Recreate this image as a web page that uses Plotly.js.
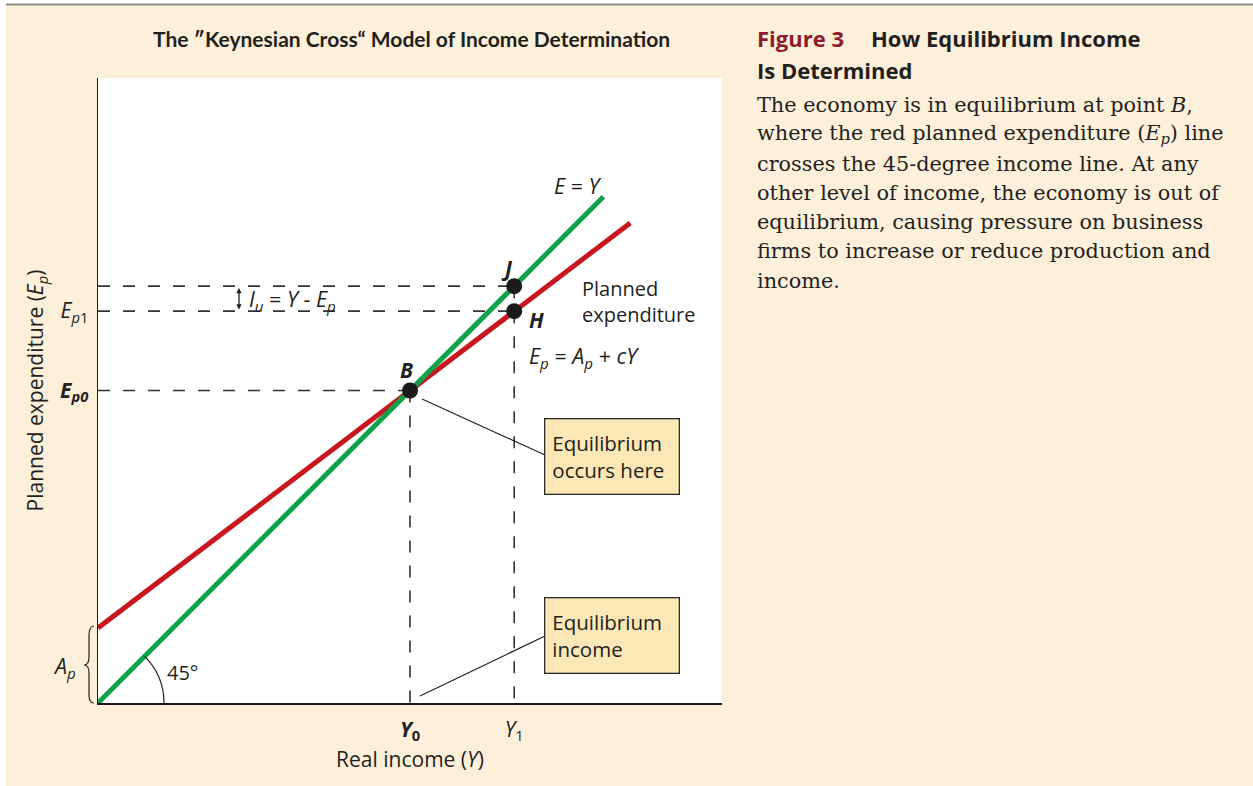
<!DOCTYPE html>
<html>
<head>
<meta charset="utf-8">
<script src="https://cdn.plot.ly/plotly-3.0.1.min.js"></script>
<style>
  html, body { margin: 0; padding: 0; background: #fdf0da; }
  #chart { width: 1253px; height: 786px; }
</style>
</head>
<body>
<div id="chart"></div>
<script>
/* 45-degree income line E = Y */
var incomeX = [0, 81];
var incomeY = [0, 81];

/* planned expenditure Ep = Ap + cY */
var plannedX = [0, 85.3];
var plannedY = [12, 76.8];

/* marked points B, J, H */
var pointName = ['B', 'J', 'H'];
var pointX = [50, 66.7, 66.7];
var pointY = [50, 66.7, 62.7];

/* tick labels */
var xTickVals = [50, 66.7];
var xTickText = ['<b><i>Y</i><sub>0</sub></b>', '<i>Y</i><sub>1</sub>'];
var yTickVals = [50, 62.7];
var yTickText = ['<b><i>E<sub>p0</sub></i></b>', '<i>E</i><sub><i>p</i>1</sub>'];

/* caption text */
var captionLines = [
  'The economy is in equilibrium at point <i>B</i>,',
  'where the red planned expenditure (<i>E<sub>p</sub></i>) line',
  'crosses the 45-degree income line. At any',
  'other level of income, the economy is out of',
  'equilibrium, causing pressure on business',
  'firms to increase or reduce production and',
  'income.'
];

/* pixel -> paper helpers (plot box 98..722 x 78..703) */
var L = 98, R = 722, T = 78, B = 703;
function fx(px) { return (px - L) / (R - L); }
function fy(py) { return (B - py) / (B - T); }
function pt(px, py) { return fx(px) + ',' + fy(py); }

var sans = '"Open Sans", "Noto Sans", sans-serif';
var serif = '"DejaVu Serif", serif';
var ink = '#231f20';

/* dashed guides from the points back to the axes */
var gx = [], gy = [];
for (var i = 0; i < pointX.length; i++) {
  gx.push(0, pointX[i], null);
  gy.push(pointY[i], pointY[i], null);
}
gx.push(pointX[0], pointX[0], null, pointX[1], pointX[1]);
gy.push(pointY[0], 0, null, pointY[1], 0);

var guides = {
  x: gx, y: gy, mode: 'lines', hoverinfo: 'skip',
  line: {color: '#333333', width: 1.6, dash: '12px,13px'}
};
var planned = {
  x: plannedX, y: plannedY, mode: 'lines', hoverinfo: 'skip',
  line: {color: '#c8171f', width: 5}
};
var income = {
  x: incomeX, y: incomeY, mode: 'lines', hoverinfo: 'skip',
  line: {color: '#0ea34a', width: 5}
};
var points = {
  x: pointX, y: pointY, mode: 'markers', hoverinfo: 'skip',
  marker: {color: '#1a1a1a', size: 16}
};

var labelShift = [[-4, 21], [-7, 18], [22, -9]];

var ann = [];
for (var k = 0; k < pointName.length; k++) {
  ann.push({
    x: pointX[k], y: pointY[k], xref: 'x', yref: 'y', showarrow: false,
    xshift: labelShift[k][0], yshift: labelShift[k][1],
    text: '<b><i>' + pointName[k] + '</i></b>',
    font: {family: sans, size: 21, color: ink}
  });
}

function txt(px, py, text, font, xanchor) {
  return {xref: 'paper', yref: 'paper', x: fx(px), y: fy(py), text: text,
    showarrow: false, xanchor: xanchor || 'center', yanchor: 'middle',
    align: 'left', font: font};
}

var lab = {family: sans, size: 20, color: ink};
var math = {family: sans, size: 21.5, color: ink};

ann.push(txt(411, 39, '<b>The ″Keynesian Cross“ Model of Income Determination</b>',
  {family: 'Lato, sans-serif', size: 21, color: ink}));
ann.push(txt(578, 186, '<i>E</i> = <i>Y</i>', math));
ann.push(txt(580, 301, 'Planned<br>expenditure', lab, 'left'));
ann.push(txt(527, 357, '<i>E<sub>p</sub></i> = <i>A<sub>p</sub></i> + <i>cY</i>', math, 'left'));
ann.push(txt(247, 300, '<i>I<sub>u</sub></i> = <i>Y</i> - <i>E<sub>p</sub></i>', math, 'left'));
ann.push(txt(182, 672, '45°', lab));
ann.push(txt(64, 667, '<i>A<sub>p</sub></i>', math));

/* double arrow for Iu */
ann.push({xref: 'paper', yref: 'paper', x: fx(239), y: fy(288), ax: 0, ay: 23,
  text: '', showarrow: true, arrowside: 'end+start', arrowhead: 2,
  arrowsize: 0.8, arrowwidth: 1.3, arrowcolor: ink, standoff: 0, startstandoff: 0});

/* callout boxes */
function box(cx, cy, text) {
  return {xref: 'paper', yref: 'paper', x: fx(cx), y: fy(cy), text: text,
    showarrow: false, align: 'left', xanchor: 'center', yanchor: 'middle',
    width: 119, height: 60, borderpad: 7, bgcolor: '#fce8b6',
    bordercolor: '#2a2a2a', borderwidth: 1.3,
    font: {family: sans, size: 20.5, color: ink}};
}
ann.push(box(612, 456, 'Equilibrium<br>occurs here'));
ann.push(box(612, 635, 'Equilibrium<br>income'));

/* caption on the right */
var head = {family: '"Open Sans", sans-serif', size: 22, color: ink};
ann.push(txt(755, 38, '<b>Figure 3</b>',
  {family: '"Open Sans", sans-serif', size: 22, color: '#8e1b2c'}, 'left'));
ann.push(txt(869, 38, '<b>How Equilibrium Income</b>', head, 'left'));
ann.push(txt(755, 70, '<b>Is Determined</b>', head, 'left'));
for (var j = 0; j < captionLines.length; j++) {
  ann.push(txt(755, 105 + j * 29.3, captionLines[j],
    {family: serif, size: 20.8, color: ink}, 'left'));
}

var shapes = [
  {type: 'rect', xref: 'paper', yref: 'paper', x0: fx(0), x1: fx(1253), y0: fy(0), y1: fy(4),
    fillcolor: '#ffffff', line: {width: 0}},
  {type: 'rect', xref: 'paper', yref: 'paper', x0: fx(0), x1: fx(6), y0: fy(0), y1: fy(786),
    fillcolor: '#ffffff', line: {width: 0}},
  {type: 'line', xref: 'paper', yref: 'paper', x0: fx(6), x1: fx(1253), y0: fy(4.5), y1: fy(4.5),
    line: {color: '#8c8c8c', width: 2}},
  /* 45 degree arc */
  {type: 'path', xref: 'paper', yref: 'paper',
    path: 'M' + pt(164, 703) + ' C' + pt(164, 685.5) + ' ' + pt(157, 668.7) + ' ' + pt(144.7, 656.3),
    line: {color: ink, width: 1.2}},
  /* brace for Ap */
  {type: 'path', xref: 'paper', yref: 'paper',
    path: 'M' + pt(94, 626) + ' C' + pt(90, 626) + ' ' + pt(89, 630) + ' ' + pt(89, 636) +
      ' L' + pt(89, 657) + ' C' + pt(89, 663) + ' ' + pt(87, 665) + ' ' + pt(84, 665) +
      ' C' + pt(87, 665) + ' ' + pt(89, 667) + ' ' + pt(89, 673) +
      ' L' + pt(89, 695) + ' C' + pt(89, 700) + ' ' + pt(90, 703) + ' ' + pt(94, 703),
    line: {color: ink, width: 1.2}},
  /* leader lines */
  {type: 'line', xref: 'paper', yref: 'paper', x0: fx(422), y0: fy(399), x1: fx(545), y1: fy(455),
    line: {color: ink, width: 1.2}},
  {type: 'line', xref: 'paper', yref: 'paper', x0: fx(420), y0: fy(696), x1: fx(545), y1: fy(636),
    line: {color: ink, width: 1.2}}
];

var layout = {
  width: 1253, height: 786,
  margin: {l: L, r: 1253 - R, t: T, b: 786 - B},
  paper_bgcolor: '#fdf0da',
  plot_bgcolor: '#ffffff',
  showlegend: false,
  xaxis: {
    range: [0, 100], showgrid: false, zeroline: false,
    showline: true, linecolor: '#1a1a1a', linewidth: 1.5,
    tickvals: xTickVals, ticktext: xTickText, ticks: '', ticklabelstandoff: 7,
    tickfont: {family: sans, size: 21, color: ink},
    title: {text: 'Real income (<i>Y</i>)', font: {family: sans, size: 21, color: ink}, standoff: 4},
    fixedrange: true
  },
  yaxis: {
    range: [0, 100], showgrid: false, zeroline: false,
    showline: true, linecolor: '#1a1a1a', linewidth: 1.5,
    tickvals: yTickVals, ticktext: yTickText, ticks: '', ticklabelstandoff: 4,
    tickfont: {family: sans, size: 21, color: ink},
    title: {text: 'Planned expenditure (<i>E<sub>p</sub></i>)', font: {family: sans, size: 21, color: ink}, standoff: 10},
    fixedrange: true
  },
  annotations: ann,
  shapes: shapes
};

Plotly.newPlot('chart', [guides, planned, income, points], layout, {displayModeBar: false, staticPlot: true});
</script>
</body>
</html>
